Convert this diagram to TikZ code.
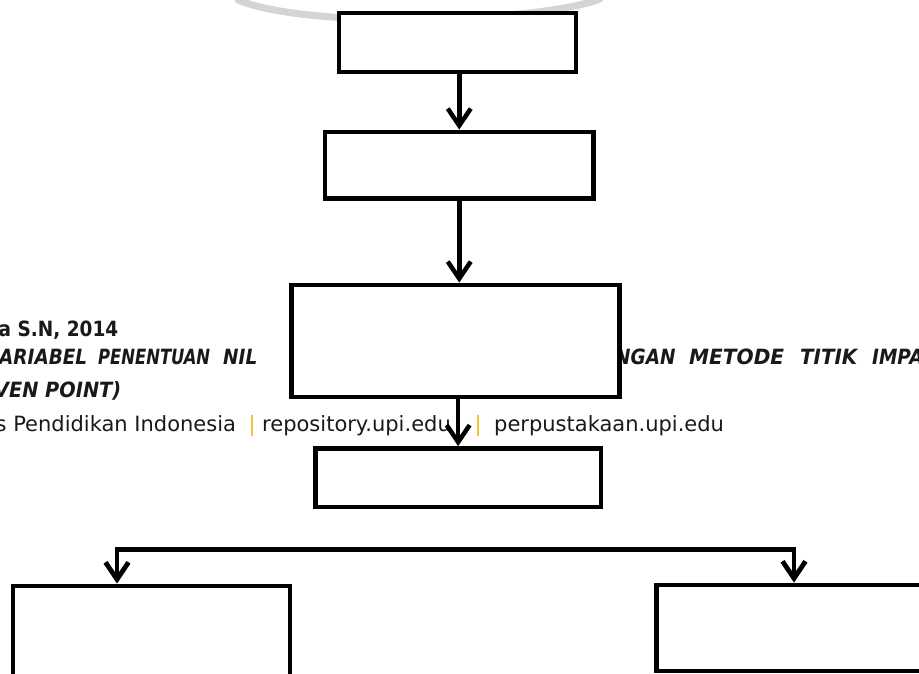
\documentclass[tikz,border=0pt]{standalone}
\usepackage{fontspec}
\usepackage{graphicx}
\usetikzlibrary{arrows.meta}
\newfontfamily\wmreg{DejaVu Sans}
\newfontfamily\wmbold[FakeStretch=0.88]{DejaVu Sans}
\newcommand\fitw[2]{\resizebox{#1}{\height}{#2}}
\definecolor{upiyellow}{RGB}{245,185,20}
\definecolor{wmgray}{RGB}{212,212,212}
\begin{document}
\begin{tikzpicture}[x=1pt,y=-1pt,
  box/.style={draw=black, line width=4.8pt, fill=white, rectangle, inner sep=0pt},
  tip/.tip={Straight Barb[length=17pt,width=23pt]},
  arr/.style={line width=4.5pt, line join=miter, -tip},
  wm/.style={inner sep=0pt, anchor=base west, text=black!90, font=\wmreg\fontsize{21}{21}\selectfont},
  wmb/.style={inner sep=0pt, anchor=base west, text=black!90, font=\wmbold\fontsize{21}{21}\selectfont\bfseries},
  wmbi/.style={inner sep=0pt, anchor=base west, text=black!90, font=\wmbold\fontsize{21}{21}\selectfont\bfseries\itshape},
  bar/.style={inner sep=0pt, anchor=base west, text=upiyellow, font=\wmreg\fontsize{21}{21}\selectfont}
]
\useasboundingbox (0,0) rectangle (919,674);
% faint watermark arc
\draw[wmgray, line width=7pt, line cap=round] (238,0) .. controls (310,30) and (540,22) .. (600,-1);
% watermark text
\node[wmb]  (t1)  at (-1.5,336.5) {a S.N, 2014};
\node[wmbi] (t2)  at (-1,364.5) {\fitw{88pt}{ARIABEL}};
\node[wmbi] (t3)  at (98,364.5) {\fitw{112pt}{PENENTUAN}};
\node[wmbi] (t4)  at (223,364.5) {NIL};
\node[wmbi] (t5)  at (615,364.5) {NGAN};
\node[wmbi] (t6)  at (689,364.5) {\fitw{95pt}{METODE}};
\node[wmbi] (t7)  at (800,364.5) {\fitw{57pt}{TITIK}};
\node[wmbi] (t8)  at (872,364.5) {IMPA};
\node[wmbi] (t9)  at (-6,397) {\fitw{127pt}{VEN POINT)}};
\node[wm]   (t10) at (-4.5,431.5) {s Pendidikan Indonesia};
\node[bar]  (t11) at (248.5,431.5) {|};
\node[wm]   (t12) at (262,431.5) {repository.upi.edu};
\node[bar]  (t13) at (474.5,431.5) {|};
\node[wm]   (t14) at (494,431.5) {perpustakaan.upi.edu};
% boxes
\node[box, minimum width=237pt, minimum height=59pt] (b1) at (457.5,42.5) {};
\node[box, minimum width=268.5pt, minimum height=66.5pt] (b2) at (459.25,165.25) {};
\node[box, minimum width=328.4pt, minimum height=112pt] (b3) at (455.5,341) {};
\node[box, minimum width=285.7pt, minimum height=58.5pt] (b4) at (458.15,477.75) {};
\node[box, minimum width=277pt, minimum height=114pt] (b5) at (151.5,643) {};
\node[box, minimum width=303.5pt, minimum height=86pt] (b6) at (808.25,628) {};
% connectors
\draw[arr] (b1.south -| b2.north) -- (b2.north);
\draw[arr] (b2.south) -- (b2.south |- b3.north);
\draw[arr] (b3.south -| b4.north) -- (b4.north);
\coordinate (jl) at (117,549.5);
\coordinate (jr) at (794,549.5);
\draw[line width=4.8pt, line join=miter, tip-tip] (jl |- b5.north) -- (jl) -- (jr) -- (jr |- b6.north);
\end{tikzpicture}
\end{document}
